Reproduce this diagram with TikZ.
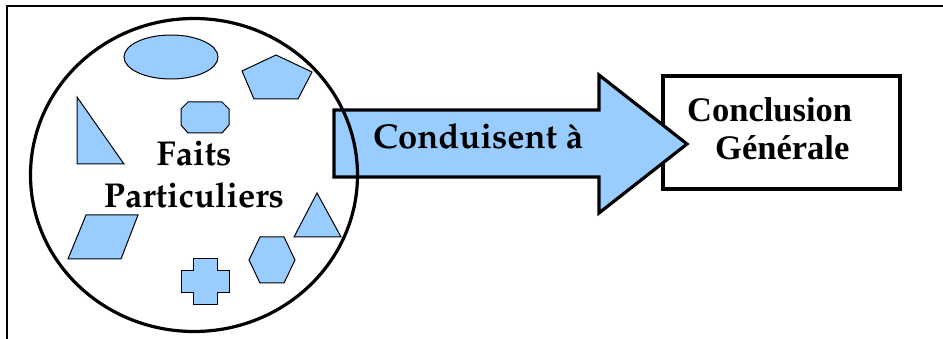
\documentclass[tikz,border=0pt]{standalone}
\usepackage[T1]{fontenc}
\usepackage{fontspec}
\usetikzlibrary{shapes.geometric}
\newfontfamily\timesfam{Liberation Serif}
\newcommand\palb{\fontencoding{T1}\fontfamily{ppl}\fontseries{b}\fontshape{n}\fontsize{34.5}{40}\selectfont}
\newcommand\timb{\timesfam\bfseries\fontsize{34.5}{40}\selectfont}
\definecolor{sky}{HTML}{99CCFF}
\begin{document}
\begin{tikzpicture}[x=1pt,y=-1pt,line join=miter,
  figure/.style={draw=black,fill=sky,line width=1pt},
  heavy/.style={line width=3.2pt},
  paltext/.style={inner sep=0pt,font=\palb},
  timtext/.style={inner sep=0pt,anchor=base west,font=\timb}]
\useasboundingbox (0,0) rectangle (943,339);
% frame
\draw[line width=2.2pt] (7,339) -- (7,6) -- (943,6);
% conclusion box
\node[draw,heavy,fill=white,minimum width=237pt,minimum height=113pt,inner sep=0pt] (concl) at (781.5,132.5) {};
% block arrow
\draw[heavy,fill=sky] (334,110) -- (599,110) -- (599,75) -- (687,144) -- (599,213) -- (599,177) -- (334,177) -- cycle;
\node[paltext,anchor=base west] (cond) at (373,149) {Conduisent \`a};
% shapes
\draw[figure] (171,57) ellipse [x radius=47, y radius=22];
\draw[figure] (276,55) -- (312,72) -- (298,99) -- (254,99) -- (242,71) -- cycle;
\draw[figure] (188,102) -- (222,102) -- (229,109) -- (229,125) -- (222,133) -- (188,133) -- (181,125) -- (181,109) -- cycle;
\draw[figure] (77,97) -- (124,164) -- (77,164) -- cycle;
\draw[figure] (86,215) -- (138,215) -- (121,259) -- (68,259) -- cycle;
\draw[figure] (317,193) -- (341,237) -- (294,237) -- cycle;
\draw[figure] (260,237) -- (284,237) -- (295,260) -- (284,283) -- (260,283) -- (249,260) -- cycle;
\draw[figure] (193,259) -- (217,259) -- (217,271) -- (229,271) -- (229,293) -- (217,293) -- (217,305) -- (193,305) -- (193,293) -- (181,293) -- (181,271) -- (193,271) -- cycle;
% circle
\node[draw,ellipse,heavy,minimum width=327pt,minimum height=313pt,inner sep=0pt] (facts) at (194,175) {};
\node[paltext,anchor=base] (faits) at (194,166) {Faits};
\node[paltext,anchor=base] (partic) at (194,208) {Particuliers};
% conclusion text
\node[timtext] (conc1) at (687,122) {Conclusion};
\node[timtext] (conc2) at (715,160) {G\'en\'erale};
\end{tikzpicture}
\end{document}
